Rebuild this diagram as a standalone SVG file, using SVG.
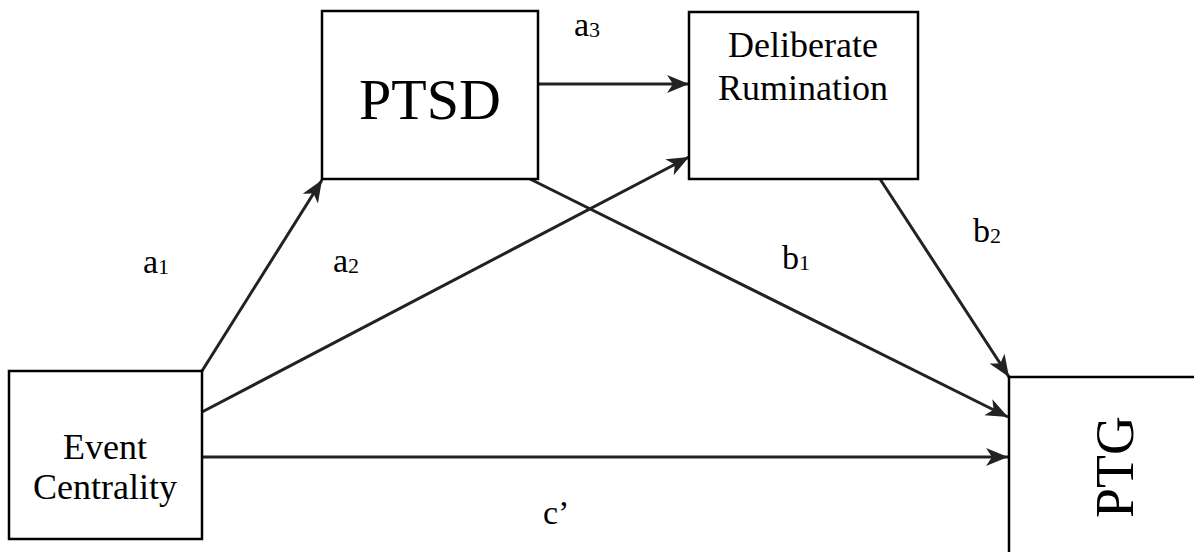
<svg xmlns="http://www.w3.org/2000/svg" width="1194" height="552" viewBox="0 0 1194 552">
<defs>
<style>
.box{fill:#fff;stroke:#000;stroke-width:2.5}
.lbl{font-family:"Liberation Serif","Times New Roman",serif;fill:#000}
.edge{stroke:#222;stroke-width:3;fill:none;marker-end:url(#ah)}
.sub{font-size:22px}
</style>
<marker id="ah" markerUnits="userSpaceOnUse" markerWidth="24" markerHeight="20" refX="22" refY="9" orient="auto">
<path d="M0,0 L22,9 L0,18 L6,9 z" fill="#222"/>
</marker>
</defs>
<rect width="1194" height="552" fill="#fff"/>
<g id="connectors">
<line class="edge" x1="202" y1="371" x2="322" y2="180"/>
<line class="edge" x1="202" y1="412" x2="689" y2="157"/>
<line class="edge" x1="538" y1="84" x2="689" y2="84"/>
<line class="edge" x1="530" y1="179" x2="1008" y2="417"/>
<line class="edge" x1="880" y1="179" x2="1009" y2="377"/>
<line class="edge" x1="202" y1="457" x2="1008" y2="457"/>
</g>
<g id="event-centrality">
<rect class="box" x="9" y="371" width="193" height="168"/>
<text class="lbl" x="105" y="459" font-size="36" text-anchor="middle">Event</text>
<text class="lbl" x="105" y="499" font-size="36" text-anchor="middle">Centrality</text>
</g>
<g id="ptsd">
<rect class="box" x="322" y="11" width="216" height="168"/>
<text class="lbl" x="430" y="119" font-size="58" text-anchor="middle">PTSD</text>
</g>
<g id="deliberate-rumination">
<rect class="box" x="689" y="12" width="229" height="167"/>
<text class="lbl" x="803" y="57" font-size="36" text-anchor="middle">Deliberate</text>
<text class="lbl" x="803" y="100" font-size="36" text-anchor="middle">Rumination</text>
</g>
<g id="ptg">
<rect class="box" x="1009" y="377" width="220" height="220"/>
<text class="lbl" transform="translate(1133,467) rotate(-90)" font-size="54" text-anchor="middle">PTG</text>
</g>
<g id="labels">
<text class="lbl" x="143" y="273" font-size="34">a<tspan class="sub" dy="1">1</tspan></text>
<text class="lbl" x="333" y="272" font-size="34">a<tspan class="sub" dy="1">2</tspan></text>
<text class="lbl" x="574" y="36" font-size="34">a<tspan class="sub" dy="1">3</tspan></text>
<text class="lbl" x="782" y="269" font-size="34">b<tspan class="sub" dy="1">1</tspan></text>
<text class="lbl" x="973" y="242" font-size="34">b<tspan class="sub" dy="1">2</tspan></text>
<text class="lbl" x="543" y="524" font-size="34">c’</text>
</g>
</svg>
